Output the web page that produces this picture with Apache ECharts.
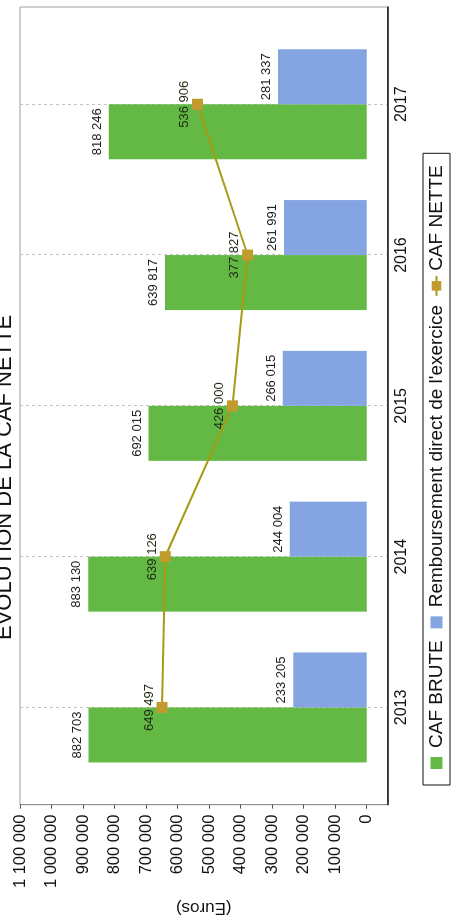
<!DOCTYPE html>
<html>
<head>
<meta charset="utf-8">
<script src="https://cdn.jsdelivr.net/npm/echarts@6/dist/echarts.min.js"></script>
<style>
  html, body { margin: 0; padding: 0; width: 451px; height: 924px; overflow: hidden; background: #fff; }
  /* the chart is laid out landscape and turned a quarter turn to the left */
  #chart { position: absolute; left: 0; top: 0; width: 924px; height: 451px;
           transform-origin: 0 0; transform: translate(0, 924px) rotate(-90deg); }
</style>
</head>
<body>
<div id="chart"></div>
<script>
const years = ['2013', '2014', '2015', '2016', '2017'];
const cafBrute = [882703, 883130, 692015, 639817, 818246];
const remboursement = [233205, 244004, 266015, 261991, 281337];
const cafNette = [649497, 639126, 426000, 377827, 536906];
const valueTicks = [0, 100000, 200000, 300000, 400000, 500000, 600000, 700000, 800000, 900000, 1000000, 1100000];

const FONT = "'Liberation Sans', Arial, sans-serif";
const fmt = v => String(v).replace(/\B(?=(\d{3})+(?!\d))/g, ' ');
const yearNum = years.map(Number);
const pair = arr => arr.map((v, i) => [yearNum[i], v]);
// square legend swatch inside a wider icon box
const squareIcon = 'path://M0,6L0,6M4,0h12v12h-12zM20,6L20,6';

const chart = echarts.init(document.getElementById('chart'), null, { width: 924, height: 451 });

const barLabel = {
  show: true, position: 'top', distance: 5,
  fontFamily: FONT, fontSize: 13, color: '#222',
  formatter: p => fmt(p.value[1])
};

chart.setOption({
  backgroundColor: '#fff',
  animation: false,
  title: {
    text: 'EVOLUTION DE LA CAF NETTE',
    left: 284, top: -6, padding: 0,
    textStyle: { fontFamily: FONT, fontSize: 22, fontWeight: 'normal', color: '#111' }
  },
  legend: {
    left: 139, top: 423,
    padding: [4, 12, 4, 12],
    borderColor: '#111', borderWidth: 1,
    itemWidth: 20, itemHeight: 12, itemGap: 8,
    textStyle: { fontFamily: FONT, fontSize: 19, color: '#111' },
    data: [
      { name: 'CAF BRUTE', icon: squareIcon },
      { name: "Remboursement direct de l'exercice", icon: squareIcon },
      { name: 'CAF NETTE' }
    ]
  },
  grid: {
    left: 112, right: 7, top: 20, bottom: 63.5,
    show: true, borderColor: '#9aa0aa', borderWidth: 1
  },
  xAxis: {
    type: 'value',
    min: 2012.355, max: 2017.645,
    axisLine: { show: true, onZero: false, lineStyle: { color: '#111', width: 1.5 } },
    axisTick: { show: false, customValues: yearNum },
    axisLabel: { customValues: yearNum, formatter: v => String(v), margin: 6,
                 fontFamily: FONT, fontSize: 16, color: '#111' },
    splitLine: { show: true, lineStyle: { color: '#c4c4c4', width: 1, type: [3, 3] } }
  },
  yAxis: {
    type: 'value',
    min: -66000, max: 1100000,
    name: '(Euros)', nameLocation: 'middle', nameGap: 94, nameRotate: 90,
    nameTextStyle: { fontFamily: FONT, fontSize: 17, color: '#111' },
    axisLine: { show: true, onZero: false, lineStyle: { color: '#8a8f99' } },
    axisTick: { show: true, customValues: valueTicks, length: 4, lineStyle: { color: '#555' } },
    axisLabel: { customValues: valueTicks, formatter: fmt, margin: 10,
                 fontFamily: FONT, fontSize: 16.5, color: '#111' },
    splitLine: { show: false }
  },
  series: [
    {
      name: 'CAF BRUTE', type: 'bar',
      data: pair(cafBrute),
      barWidth: 55, barGap: '0%',
      itemStyle: { color: '#64b944' },
      label: barLabel
    },
    {
      name: "Remboursement direct de l'exercice", type: 'bar',
      data: pair(remboursement),
      barWidth: 55, barGap: '0%',
      itemStyle: { color: '#84a5e2' },
      label: barLabel
    },
    {
      name: 'CAF NETTE', type: 'line',
      data: pair(cafNette),
      z: 5,
      symbol: 'rect', symbolSize: 11,
      itemStyle: { color: '#c29b2f' },
      lineStyle: { color: '#a99a14', width: 2 },
      label: {
        show: true, position: 'top', distance: 1,
        fontFamily: FONT, fontSize: 13, color: '#1f2a12',
        formatter: p => fmt(p.value[1])
      }
    }
  ]
});
</script>
</body>
</html>
